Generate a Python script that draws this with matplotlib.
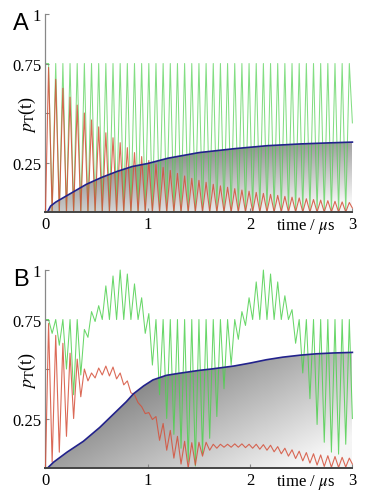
import numpy as np
import matplotlib
matplotlib.use("Agg")
import matplotlib.pyplot as plt

plt.rcParams['font.family'] = ['Liberation Serif', 'DejaVu Serif']
plt.rcParams['mathtext.fontset'] = 'stix'

# times of the fast oscillation maxima / minima (in microseconds)
peak_t = [0.03, 0.10, 0.17, 0.24, 0.31, 0.38, 0.45, 0.52, 0.59, 0.66,
          0.73, 0.80, 0.87, 0.94, 1.01, 1.08, 1.15, 1.22, 1.29, 1.36,
          1.43, 1.50, 1.57, 1.64, 1.71, 1.78, 1.85, 1.92, 1.99, 2.06,
          2.13, 2.20, 2.27, 2.34, 2.41, 2.48, 2.55, 2.62, 2.69, 2.76,
          2.83, 2.90, 2.97]
trough_t = [0.065, 0.135, 0.205, 0.275, 0.345, 0.415, 0.485, 0.555, 0.625, 0.695,
            0.765, 0.835, 0.905, 0.975, 1.045, 1.115, 1.185, 1.255, 1.325, 1.395,
            1.465, 1.535, 1.605, 1.675, 1.745, 1.815, 1.885, 1.955, 2.025, 2.095,
            2.165, 2.235, 2.305, 2.375, 2.445, 2.515, 2.585, 2.655, 2.725, 2.795,
            2.865, 2.935]

# panel A
green_a_peak = [0.75, 0.75, 0.75, 0.75, 0.75, 0.75, 0.75, 0.75, 0.75, 0.75,
                0.75, 0.75, 0.75, 0.75, 0.75, 0.75, 0.75, 0.75, 0.75, 0.75,
                0.75, 0.75, 0.75, 0.75, 0.75, 0.75, 0.75, 0.75, 0.75, 0.75,
                0.75, 0.75, 0.75, 0.75, 0.75, 0.75, 0.75, 0.75, 0.75, 0.75,
                0.75, 0.75, 0.75]
green_a_trough = [0.0, 0.0, 0.0, 0.0, 0.0, 0.0, 0.0, 0.0, 0.0, 0.0,
                  0.0, 0.0, 0.0, 0.0, 0.0, 0.0, 0.0, 0.0, 0.0, 0.0,
                  0.0, 0.0, 0.0, 0.0, 0.0, 0.0, 0.0, 0.0, 0.0, 0.0,
                  0.0, 0.0, 0.0, 0.0, 0.0, 0.0, 0.0, 0.0, 0.0, 0.0,
                  0.0, 0.0]
green_a_ends = (0.75, 0.45)
red_a_peak = [0.73, 0.67, 0.625, 0.58, 0.54, 0.50, 0.465, 0.43, 0.40, 0.375,
              0.35, 0.325, 0.30, 0.28, 0.26, 0.24, 0.225, 0.21, 0.195, 0.182,
              0.17, 0.16, 0.15, 0.14, 0.132, 0.125, 0.118, 0.111, 0.105, 0.099,
              0.094, 0.089, 0.084, 0.079, 0.075, 0.071, 0.067, 0.063, 0.06, 0.057,
              0.054, 0.051, 0.048]
red_a_trough = [0.0, 0.0, 0.0, 0.0, 0.0, 0.0, 0.0, 0.0, 0.0, 0.0,
                0.0, 0.0, 0.0, 0.0, 0.0, 0.0, 0.0, 0.0, 0.0, 0.0,
                0.0, 0.0, 0.0, 0.0, 0.0, 0.0, 0.0, 0.0, 0.0, 0.0,
                0.0, 0.0, 0.0, 0.0, 0.0, 0.0, 0.0, 0.0, 0.0, 0.0,
                0.0, 0.0]
red_a_ends = (0.0, 0.02)
blue_a_t = [0.0, 0.02, 0.05, 0.1, 0.2, 0.3, 0.4, 0.55, 0.7, 0.85, 1.0, 1.2,
            1.5, 1.85, 2.17, 2.5, 2.82, 3.0]
blue_a_v = [0.0, 0.0, 0.03, 0.05, 0.08, 0.11, 0.14, 0.175, 0.205, 0.23, 0.245, 0.272,
            0.30, 0.32, 0.335, 0.344, 0.35, 0.353]

# panel B
green_b_peak = [0.75, 0.75, 0.75, 0.75, 0.75, 0.70, 0.79, 0.82, 0.92, 0.97,
                1.0, 0.98, 0.93, 0.86, 0.78, 0.75, 0.75, 0.75, 0.75, 0.75,
                0.75, 0.75, 0.75, 0.75, 0.75, 0.75, 0.75, 0.79, 0.86, 0.94,
                1.0, 0.98, 0.94, 0.87, 0.80, 0.75, 0.75, 0.75, 0.75, 0.75,
                0.75, 0.75, 0.75]
green_b_trough = [0.68, 0.62, 0.50, 0.37, 0.47, 0.66, 0.74, 0.75, 0.75, 0.75,
                  0.75, 0.75, 0.75, 0.68, 0.52, 0.37, 0.25, 0.17, 0.10, 0.03,
                  0.01, 0.07, 0.15, 0.26, 0.40, 0.52, 0.65, 0.72, 0.75, 0.75,
                  0.75, 0.75, 0.75, 0.75, 0.63, 0.48, 0.35, 0.22, 0.13, 0.08,
                  0.07, 0.12]
green_b_ends = (0.75, 0.25)
red_b_peak = [0.73, 0.67, 0.63, 0.58, 0.55, 0.50, 0.48, 0.505, 0.515, 0.51,
              0.48, 0.44, 0.37, 0.31, 0.28, 0.26, 0.225, 0.19, 0.16, 0.135,
              0.128, 0.13, 0.13, 0.12, 0.12, 0.12, 0.122, 0.122, 0.12, 0.12,
              0.118, 0.115, 0.108, 0.10, 0.092, 0.085, 0.078, 0.072, 0.066, 0.062,
              0.058, 0.054, 0.05]
red_b_trough = [0.03, 0.08, 0.16, 0.25, 0.36, 0.44, 0.455, 0.47, 0.465, 0.45,
                0.42, 0.38, 0.33, 0.275, 0.245, 0.14, 0.09, 0.05, 0.02, 0.0,
                0.015, 0.06, 0.09, 0.10, 0.105, 0.105, 0.105, 0.103, 0.10, 0.095,
                0.09, 0.082, 0.072, 0.06, 0.048, 0.036, 0.025, 0.015, 0.008, 0.004,
                0.003, 0.005]
red_b_ends = (0.0, 0.02)
blue_b_t = [0.0, 0.02, 0.08, 0.21, 0.37, 0.53, 0.70, 0.79, 0.86, 0.96, 1.05, 1.18,
            1.3, 1.5, 1.62, 1.84, 2.0, 2.16, 2.32, 2.49, 2.65, 2.81, 3.0]
blue_b_v = [0.0, 0.0, 0.03, 0.08, 0.135, 0.205, 0.29, 0.335, 0.375, 0.415, 0.445, 0.468,
            0.478, 0.493, 0.50, 0.515, 0.53, 0.547, 0.56, 0.57, 0.577, 0.581, 0.584]

y_ticks = [0.25, 0.5, 0.75, 1.0]
y_ticklabels = ['0.25', '', '0.75', '1']
x_ticks = [0, 1, 2, 3]
x_ticklabels = ['0', '1', '2', '3']

GREEN = '#4fd04f'
RED = '#d5503a'
BLUE = '#22228c'


def zigzag(peaks, troughs, ends):
    t = [0.0]
    v = [ends[0]]
    for i in range(len(peaks)):
        t.append(peak_t[i])
        v.append(peaks[i])
        if i < len(troughs):
            t.append(trough_t[i])
            v.append(troughs[i])
    t.append(3.0)
    v.append(ends[1])
    return t, v


def gray_fill(ax, t, v, base, kx, ky):
    poly = ax.fill_between(t, v, 0, facecolor='none', edgecolor='none')
    path = poly.get_paths()[0]
    tt, vv = np.meshgrid(np.linspace(0, 3, 300), np.linspace(0, 1, 200))
    g = base + kx * tt / 3 + ky * (1 - vv / max(v))
    g = np.clip(g, 0, 0.96)
    im = ax.imshow(g, extent=[0, 3, 0, 1], origin='lower', cmap='gray',
                   vmin=0, vmax=1, aspect='auto', zorder=1)
    im.set_clip_path(path, transform=ax.transData)


def panel(ax, letter, green, red, blue_t, blue_v, shade, line_alpha):
    gt, gv = zigzag(*green)
    rt, rv = zigzag(*red)
    gray_fill(ax, blue_t, blue_v, *shade)
    ax.plot(gt, gv, color=GREEN, lw=0.75, alpha=line_alpha, zorder=2, clip_on=False)
    ax.plot(rt, rv, color=RED, lw=0.8, alpha=0.85, zorder=3, clip_on=False)
    ax.plot(blue_t, blue_v, color=BLUE, lw=1.2, zorder=4, clip_on=False)

    ax.set_xlim(0, 3)
    ax.set_ylim(0, 1)
    for s in ['top', 'right']:
        ax.spines[s].set_visible(False)
    ax.spines['left'].set_color('#888888')
    ax.spines['left'].set_linewidth(0.9)
    ax.spines['bottom'].set_color('#444444')
    ax.spines['bottom'].set_linewidth(1.4)
    ax.spines['bottom'].set_zorder(5)
    ax.set_yticks(y_ticks)
    ax.set_yticklabels(y_ticklabels)
    ax.set_xticks(x_ticks)
    ax.set_xticklabels(x_ticklabels)
    ax.tick_params(direction='in', length=3, width=0.8, color='#888888',
                   labelsize=12, pad=3)
    ax.set_ylabel(r'$p_{\mathrm{T}}$(t)', fontsize=13)
    ax.yaxis.set_label_coords(-0.025, 0.5)
    ax.text(2.54, -0.02, r'time / $\mu$s', fontsize=12, ha='center', va='top')
    ax.text(-0.105, 1.01, letter, transform=ax.transAxes, fontsize=17,
            family='Liberation Sans', ha='left', va='top')


fig = plt.figure(figsize=(3.66, 5.02), dpi=100)
ax_a = fig.add_axes([0.1243, 0.5757, 0.8385, 0.3944])
ax_b = fig.add_axes([0.1243, 0.0657, 0.8385, 0.3944])

panel(ax_a, 'A', (green_a_peak, green_a_trough, green_a_ends),
      (red_a_peak, red_a_trough, red_a_ends), blue_a_t, blue_a_v,
      (0.38, 0.25, 0.4), 0.7)
panel(ax_b, 'B', (green_b_peak, green_b_trough, green_b_ends),
      (red_b_peak, red_b_trough, red_b_ends), blue_b_t, blue_b_v,
      (0.32, 0.42, 0.3), 0.85)

fig.savefig('out.png', dpi=100)
